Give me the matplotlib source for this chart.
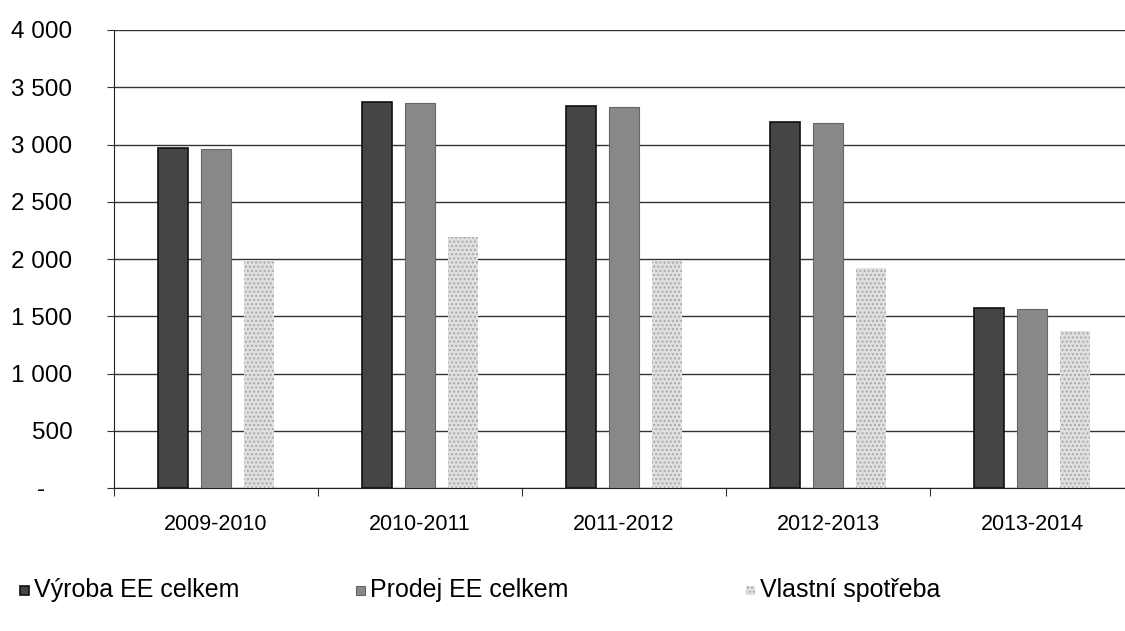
"""Výroba, prodej a vlastní spotřeba EE po sezónách - grouped bar chart."""

import numpy as np
import matplotlib.pyplot as plt
from matplotlib.patches import Rectangle
from matplotlib.ticker import FuncFormatter

plt.rcParams["font.family"] = ["Liberation Sans", "DejaVu Sans"]

seasons  = ["2009-2010", "2010-2011", "2011-2012", "2012-2013", "2013-2014"]
vyroba   = [2970, 3370, 3340, 3200, 1570]
prodej   = [2960, 3360, 3330, 3190, 1560]
spotreba = [1990, 2190, 1985, 1925, 1375]

series_names = ["Výroba EE celkem", "Prodej EE celkem", "Vlastní spotřeba"]

STYLES = [
    dict(facecolor="#454545", edgecolor="#111111", linewidth=1.2),
    dict(facecolor="#888888", edgecolor="#666666", linewidth=0.8),
    dict(facecolor="#e0e0e0", edgecolor="#a8a8a8", linewidth=0.0, hatch="...."),
]


def fmt_thousands(v, _pos):
    if v == 0:
        return "-    "
    return f"{int(v):,}".replace(",", " ")


def main():
    fig = plt.figure(figsize=(11.25, 6.31), dpi=100)
    ax = fig.add_axes([114 / 1125, 1 - 488 / 631, 1020 / 1125, 458 / 631])

    x = np.arange(len(seasons))
    width = 0.147
    step = 0.212
    data = [vyroba, prodej, spotreba]

    for k, (vals, style) in enumerate(zip(data, STYLES)):
        ax.bar(x + (k - 1) * step, vals, width, zorder=3, **style)

    ax.set_xlim(-0.5, len(seasons) - 0.5)
    ax.set_ylim(0, 4000)
    ax.set_yticks(np.arange(0, 4001, 500))
    ax.yaxis.set_major_formatter(FuncFormatter(fmt_thousands))
    ax.yaxis.grid(True, color="#333333", linewidth=1.0, zorder=0)
    ax.set_axisbelow(True)

    # category boundaries get the tick marks, labels sit at the centres
    ax.set_xticks(np.arange(-0.5, len(seasons), 1.0))
    ax.set_xticklabels([])
    ax.set_xticks(x, minor=True)
    ax.set_xticklabels(seasons, minor=True, fontsize=15.5)
    ax.tick_params(axis="x", which="major", length=6, color="#333333")
    ax.tick_params(axis="x", which="minor", length=0, pad=19)
    ax.tick_params(axis="y", length=5, color="#333333", pad=25, labelsize=17.5)

    for side in ("top", "right"):
        ax.spines[side].set_visible(False)
    ax.spines["left"].set_color("#222222")
    ax.spines["bottom"].set_color("#222222")

    # legend entries laid out like the original (uneven spacing)
    legend_x = [20, 356, 746]
    legend_y = 590
    for name, style, lx in zip(series_names, STYLES, legend_x):
        fig.patches.append(Rectangle(
            (lx / 1125, 1 - (legend_y + 5) / 631), 9 / 1125, 9 / 631,
            transform=fig.transFigure, figure=fig, **style))
        fig.text((lx + 14) / 1125, 1 - legend_y / 631, name,
                 fontsize=18, va="center", ha="left")

    fig.savefig("out.png", dpi=100)


if __name__ == "__main__":
    main()
